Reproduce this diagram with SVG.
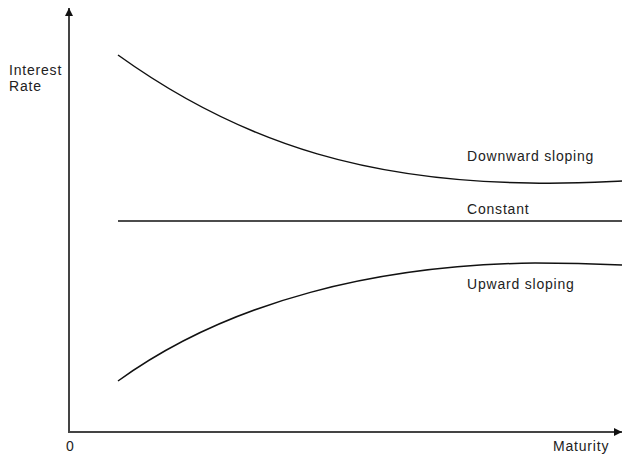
<svg xmlns="http://www.w3.org/2000/svg" width="624" height="456" viewBox="0 0 624 456">
<defs>
<marker id="arr" viewBox="0 0 10 10" refX="10" refY="5" markerWidth="8" markerHeight="8" markerUnits="userSpaceOnUse" orient="auto"><path d="M0,0 L10,5 L0,10 z" fill="#111"/></marker>
<style>
.t{font-family:"Liberation Sans",Arial,sans-serif;font-size:14px;letter-spacing:0.8px;fill:#222}
.ax{stroke:#444;stroke-width:2;fill:none}
.c{stroke:#111;stroke-width:1.5;fill:none}
</style>
</defs>
<rect width="624" height="456" fill="#fff"/>
<g id="connectors">
<line class="ax" x1="69" y1="433" x2="69" y2="8" marker-end="url(#arr)"/>
<line class="ax" x1="68" y1="432" x2="622" y2="432" marker-end="url(#arr)"/>
</g>
<g id="downward"><path class="c" d="M118,55 C250,150 380,181 530,183 C570,184 600,182 622,181"/><text class="t" x="467" y="161">Downward sloping</text></g>
<g id="constant"><line class="c" x1="118" y1="221" x2="622" y2="221"/><text class="t" x="467" y="214">Constant</text></g>
<g id="upward"><path class="c" d="M118,381 C230,300 380,265 535,263 C570,263 600,264 622,265"/><text class="t" x="467" y="289">Upward sloping</text></g>
<g id="labels">
<text class="t" x="9" y="75" letter-spacing="0">Interest</text>
<text class="t" x="9" y="91" letter-spacing="0">Rate</text>
<text class="t" x="66" y="451">0</text>
<text class="t" x="553" y="451" letter-spacing="0.3">Maturity</text>
</g>
</svg>
